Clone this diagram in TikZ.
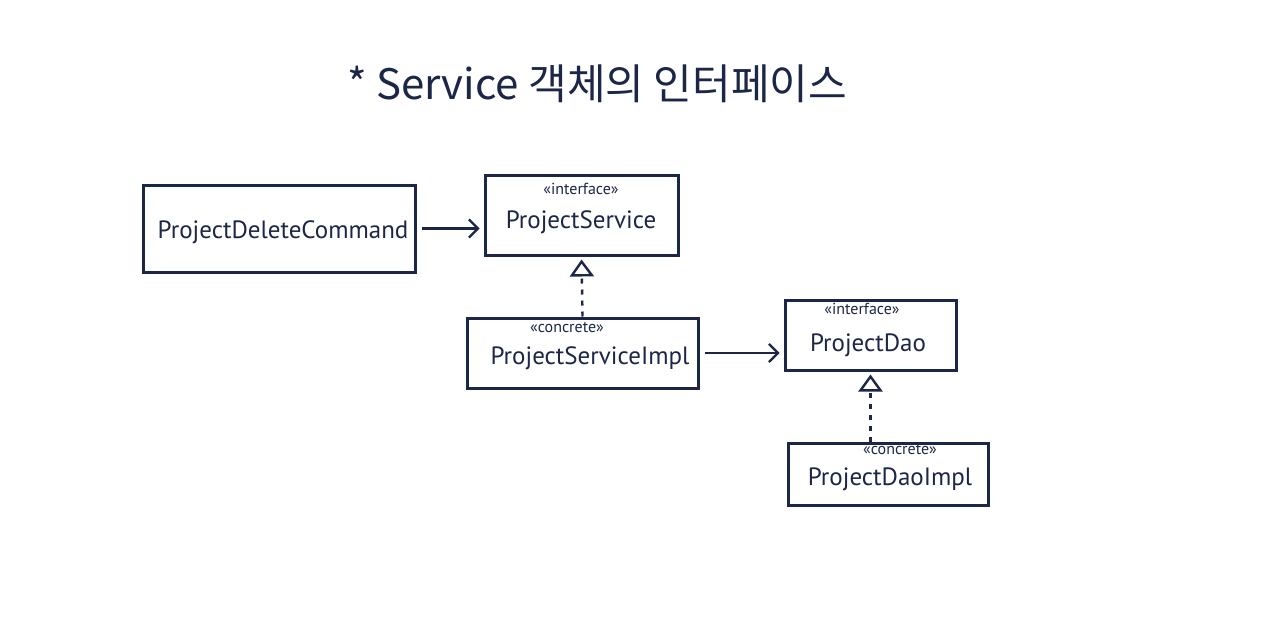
\documentclass[tikz,border=0pt]{standalone}
\usepackage{fontspec}
\setmainfont{PT Sans}
\newfontfamily\kr{Noto Sans CJK KR}
\usetikzlibrary{arrows.meta}
\definecolor{ink}{HTML}{1C2647}
\tikzset{
  box/.style={draw=ink, line width=3pt, inner sep=0pt},
  cname/.style={text=ink, font=\fontsize{25}{28}\selectfont, inner sep=0pt},
  stereo/.style={text=ink, font=\fontsize{16}{18}\selectfont, inner sep=0pt},
  dep/.style={draw=ink, line width=2.2pt, -{Straight Barb[length=9pt,width=18pt,line width=2.2pt]}, shorten <=5pt, shorten >=4pt},
  real/.style={draw=ink, line width=2.4pt, dash pattern=on 5pt off 6pt, -{Triangle[open,length=17pt,width=24pt,line width=2.4pt]}, shorten >=3pt}
}
\begin{document}
\begin{tikzpicture}[x=1pt,y=-1pt]
\useasboundingbox[fill=white] (0,0) rectangle (1280,635);
\node[text=ink, font=\kr\fontsize{42}{46}\selectfont, inner sep=0pt] (title) at (597,84) {* Service 객체의 인터페이스};

\node[box, minimum width=272pt, minimum height=87pt] (pdc) at (279,228.5) {};
\node[cname] (pdct) at (283,232) {ProjectDeleteCommand};

\node[box, minimum width=193pt, minimum height=80pt] (ps) at (581.5,215) {};
\node[stereo] (pss) at (581,189) {«interface»};
\node[cname] (pst) at (581,222) {ProjectService};

\node[box, minimum width=231pt, minimum height=70pt] (psi) at (582.5,353) {};
\node[stereo] (psis) at (567,328) {«concrete»};
\node[cname] (psit) at (590,358) {ProjectServiceImpl};

\node[box, minimum width=171pt, minimum height=70pt] (pd) at (870.5,335) {};
\node[stereo] (pds) at (862,309) {«interface»};
\node[cname] (pdt) at (868,345) {ProjectDao};

\node[box, minimum width=200pt, minimum height=62pt] (pdi) at (888,474) {};
\node[stereo] (pdis) at (900,450) {«concrete»};
\node[cname] (pdit) at (890,479) {ProjectDaoImpl};

\draw[dep] (pdc.east) -- (pdc.east -| ps.west);
\draw[dep] (psi.east) -- (psi.east -| pd.west);
\draw[real] (psi.north) -- (ps.south);
\draw[real] (pd.south |- pdi.north) -- (pd.south);
\end{tikzpicture}
\end{document}
